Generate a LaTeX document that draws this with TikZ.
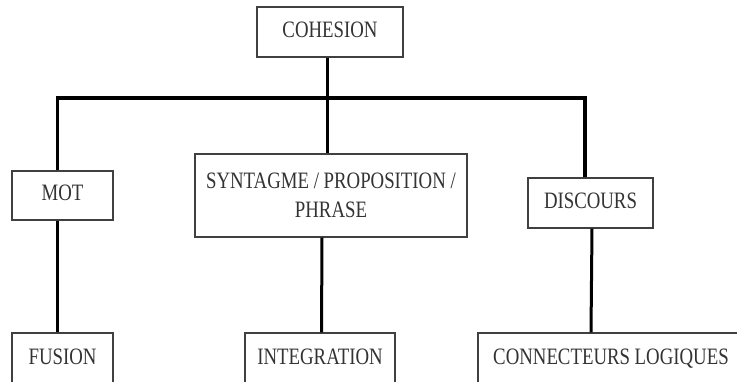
\documentclass[tikz,border=0pt]{standalone}
\usepackage{fontspec}
\setmainfont[FakeStretch=0.8]{Liberation Serif}
\begin{document}
\begin{tikzpicture}[x=1pt,y=-1pt,
  box/.style={draw=black!75, line width=1.4pt, rectangle, inner sep=0pt,
    text=black!80, font=\fontsize{23.5}{29}\selectfont, align=center},
  capbox/.style={box, text height=16pt, text depth=5pt},
  link/.style={draw=black, line width=3pt},
  barline/.style={draw=black, line width=3.8pt}]
\clip (0,0) rectangle (737,382);
\useasboundingbox (0,0) rectangle (737,382);
\fill[white] (0,0) rectangle (737,382);

\node[capbox, minimum width=146pt, minimum height=50pt] (coh) at (330,32) {COHESION};
\node[capbox, minimum width=101pt, minimum height=49pt] (mot) at (62.5,195.5) {MOT};
\node[box, minimum width=272pt, minimum height=83pt] (syn) at (331,195.5) {SYNTAGME / PROPOSITION /\\PHRASE};
\node[capbox, minimum width=125pt, minimum height=50pt] (dis) at (590.5,203) {DISCOURS};
\node[capbox, minimum width=101pt, minimum height=51pt] (fus) at (62.5,358.5) {FUSION};
\node[capbox, minimum width=150pt, minimum height=51pt] (int) at (320,358.5) {INTEGRATION};
\node[capbox, minimum width=266pt, minimum height=51pt] (con) at (611,358.5) {CONNECTEURS LOGIQUES};

\coordinate (barL) at (57.5,98);
\coordinate (barR) at (585,98);
\coordinate (barM) at (327.5,98);

\draw[barline, line join=miter] ([xshift=-5pt]mot.north) -- (barL) -- (barR) -- ([xshift=-5.5pt]dis.north);
\draw[link] ([xshift=-2.5pt]coh.south) -- (barM);
\draw[link] (barM) -- ([xshift=-3.5pt]syn.north);
\draw[link] ([xshift=-5pt]mot.south) -- ([xshift=-5pt]fus.north);
\draw[link] ([xshift=-9pt]syn.south) -- ([xshift=1.5pt]int.north);
\draw[link] ([xshift=1.5pt]dis.south) -- ([xshift=-20pt]con.north);
\end{tikzpicture}
\end{document}
